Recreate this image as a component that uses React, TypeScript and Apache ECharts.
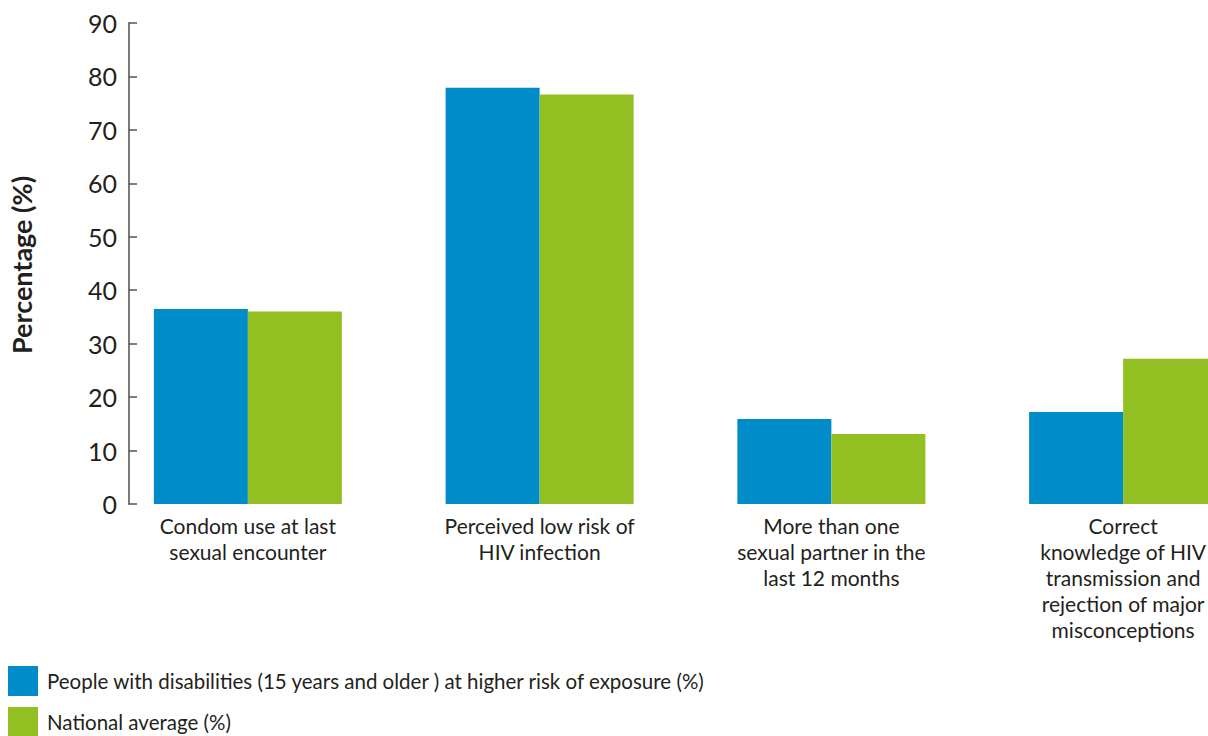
import React, { useEffect, useRef } from "react";
import * as echarts from "echarts";

const categories = [
  "Condom use at last\nsexual encounter",
  "Perceived low risk of\nHIV infection",
  "More than one\nsexual partner in the\nlast 12 months",
  "Correct\nknowledge of HIV\ntransmission and\nrejection of major\nmisconceptions",
];
const seriesNames = [
  "People with disabilities (15 years and older ) at higher risk of exposure (%)",
  "National average (%)",
];
const disabilityValues = [36.5, 77.9, 15.9, 17.2];
const nationalValues = [36.0, 76.6, 13.1, 27.2];
const yTicks = { min: 0, max: 90, interval: 10 };
const yTitle = "Percentage (%)";

const BLUE = "#008bc9";
const GREEN = "#92c022";
const TEXT = "#231f20";
const FONT = "Lato, 'Noto Sans', sans-serif";

export default function App() {
  const ref = useRef<HTMLDivElement>(null);
  useEffect(() => {
    if (!ref.current) return;
    const chart = echarts.init(ref.current, null, { renderer: "svg" });
    const legendBase = {
      orient: "vertical",
      left: 8,
      itemWidth: 30,
      itemHeight: 30,
      icon: "rect",
      padding: 0,
      textStyle: { fontFamily: FONT, fontSize: 20.5, color: TEXT, padding: [0, 0, 0, 4] },
    };
    chart.setOption({
      animation: false,
      textStyle: { fontFamily: FONT, color: TEXT },
      grid: { left: 102, top: 23, width: 1167, bottom: 232 },
      legend: [
        { ...legendBase, top: 666, data: [seriesNames[0]] },
        { ...legendBase, top: 707, data: [seriesNames[1]] },
      ],
      xAxis: {
        type: "category",
        data: categories,
        axisLine: { show: false },
        axisTick: { show: false },
        axisLabel: {
          interval: 0,
          margin: 8,
          fontFamily: FONT,
          fontSize: 21,
          lineHeight: 26,
          color: TEXT,
          align: "center",
        },
      },
      yAxis: {
        type: "value",
        min: yTicks.min,
        max: yTicks.max,
        interval: yTicks.interval,
        offset: -27,
        splitLine: { show: false },
        axisLine: { show: true, lineStyle: { color: "#7a7a7a", width: 2 } },
        axisTick: { show: true, inside: true, length: 8, lineStyle: { color: "#555", width: 1.5 } },
        axisLabel: { margin: 12, fontFamily: FONT, fontSize: 25, color: TEXT },
      },
      graphic: [
        {
          type: "text",
          x: 21,
          y: 265,
          rotation: Math.PI / 2,
          style: {
            text: yTitle,
            fontFamily: FONT,
            fontSize: 27,
            fontWeight: "bold",
            fill: TEXT,
            align: "center",
            verticalAlign: "middle",
          },
        },
      ],
      series: [
        {
          name: seriesNames[0],
          type: "bar",
          data: disabilityValues,
          barWidth: 94,
          barGap: "0%",
          itemStyle: { color: BLUE },
        },
        {
          name: seriesNames[1],
          type: "bar",
          data: nationalValues,
          barWidth: 94,
          barGap: "0%",
          itemStyle: { color: GREEN },
        },
      ],
    });
    return () => chart.dispose();
  }, []);
  return (
    <div
      style={{
        position: "fixed",
        left: 0,
        top: 0,
        width: 1208,
        height: 736,
        overflow: "hidden",
        background: "#fff",
      }}
    >
      <div ref={ref} style={{ width: 1270, height: 736 }} />
    </div>
  );
}
